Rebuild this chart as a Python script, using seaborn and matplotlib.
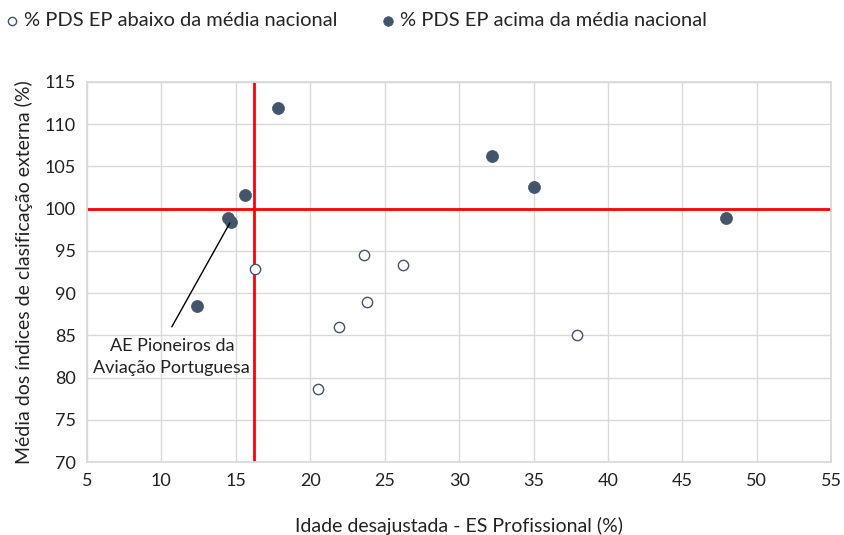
import numpy as np
import pandas as pd
import matplotlib
matplotlib.use("Agg")
import matplotlib.pyplot as plt
import seaborn as sns

# idade desajustada (x) e média dos índices (y)
acima_x = [17.8, 32.2, 35.0, 15.6, 14.5, 14.7, 47.9, 12.4]
acima_y = [111.9, 106.2, 102.6, 101.6, 98.9, 98.4, 98.9, 88.5]
abaixo_x = [16.3, 23.6, 26.2, 23.8, 21.9, 20.5, 37.9]
abaixo_y = [92.8, 94.5, 93.3, 88.9, 86.0, 78.6, 85.0]

lbl_abaixo = "% PDS EP abaixo da média nacional"
lbl_acima = "% PDS EP acima da média nacional"

media_x = 16.2
media_y = 100

df = pd.DataFrame({
    "x": abaixo_x + acima_x,
    "y": abaixo_y + acima_y,
    "grupo": [lbl_abaixo] * len(abaixo_x) + [lbl_acima] * len(acima_x),
})

sns.set_theme(style="white")
plt.rcParams["font.family"] = ["Lato", "DejaVu Sans"]

fig = plt.figure(figsize=(8.44, 5.35), dpi=100)
ax = fig.add_axes([0.103, 0.1364, 0.882, 0.7106])

cor = "#44546A"
ax.grid(True, color="#d9d9d9", linewidth=1)
ax.set_axisbelow(True)

sns.scatterplot(data=df[df.grupo == lbl_abaixo], x="x", y="y", ax=ax,
                marker="o", s=55, facecolor="white", edgecolor=cor,
                linewidth=1.0, label=lbl_abaixo, zorder=3)
sns.scatterplot(data=df[df.grupo == lbl_acima], x="x", y="y", ax=ax,
                marker="o", s=75, color=cor, edgecolor=cor,
                linewidth=0.5, label=lbl_acima, zorder=3)

ax.axvline(media_x, color="#ff0000", linewidth=2, zorder=2)
ax.axhline(media_y, color="#ff0000", linewidth=2, zorder=2)

# seta da anotação
ax.annotate("", xy=(14.6, 98.3), xytext=(10.7, 86.0),
            arrowprops=dict(arrowstyle="-", color="black", lw=1,
                            shrinkA=0, shrinkB=0))
ax.text(10.7, 82.4, "AE Pioneiros da\nAviação Portuguesa", ha="center",
        va="center", fontsize=13, color="#222222", linespacing=1.45)

ax.set_xlim(5, 55)
ax.set_ylim(70, 115)
ax.set_xticks(np.arange(5, 56, 5))
ax.set_yticks(np.arange(70, 116, 5))
ax.tick_params(axis="both", length=0, labelsize=13, colors="#222222", pad=8)
for sp in ax.spines.values():
    sp.set_color("#d9d9d9")

ax.set_xlabel("Idade desajustada - ES Profissional (%)", fontsize=14,
              color="#222222", labelpad=20)
ax.set_ylabel("Média dos índices de clasificação externa (%)", fontsize=14,
              color="#222222", labelpad=8)

leg = ax.legend(loc="upper left", bbox_to_anchor=(-0.12, 1.205), ncol=2,
                frameon=False, fontsize=14.5, handletextpad=0.3,
                handlelength=0.6, columnspacing=2.2, markerscale=0.8,
                borderaxespad=0)

fig.savefig("out.png", dpi=100)
